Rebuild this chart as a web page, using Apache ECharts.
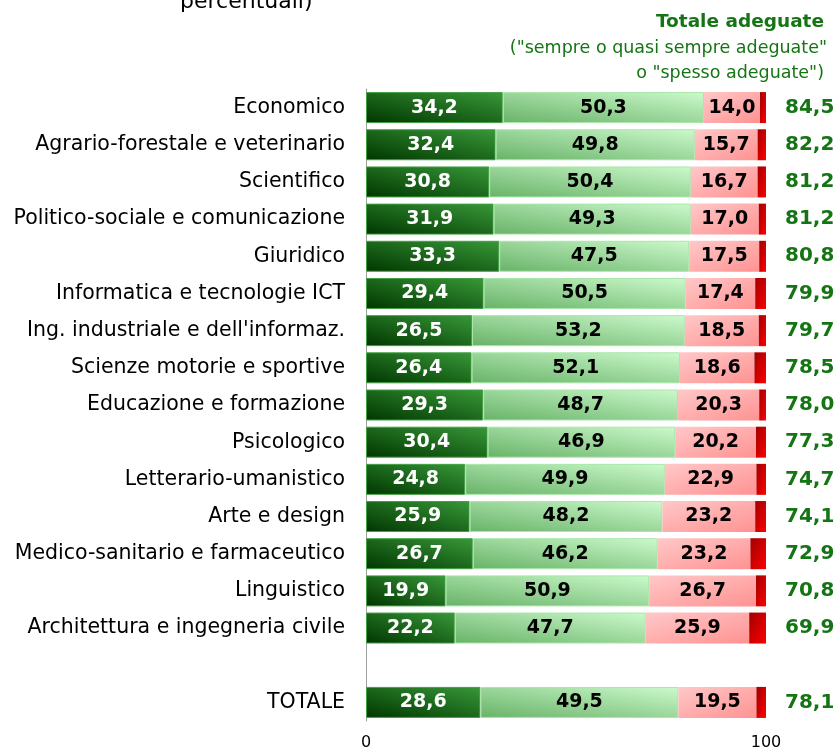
<!DOCTYPE html>
<html>
<head>
<meta charset="utf-8">
<script src="https://cdn.jsdelivr.net/npm/echarts@6/dist/echarts.min.js"></script>
<style>
  html, body { margin: 0; padding: 0; background: #fff; }
  #main { width: 838px; height: 749px; }
</style>
</head>
<body>
<div id="main"></div>
<script>
// categorie (riga vuota prima del totale)
var categorie = ['Economico', 'Agrario-forestale e veterinario', 'Scientifico',
  'Politico-sociale e comunicazione', 'Giuridico', 'Informatica e tecnologie ICT',
  "Ing. industriale e dell'informaz.", 'Scienze motorie e sportive',
  'Educazione e formazione', 'Psicologico', 'Letterario-umanistico',
  'Arte e design', 'Medico-sanitario e farmaceutico', 'Linguistico',
  'Architettura e ingegneria civile', '', 'TOTALE'];

var sempre  = [34.2, 32.4, 30.8, 31.9, 33.3, 29.4, 26.5, 26.4, 29.3, 30.4, 24.8, 25.9, 26.7, 19.9, 22.2, null, 28.6];
var spesso  = [50.3, 49.8, 50.4, 49.3, 47.5, 50.5, 53.2, 52.1, 48.7, 46.9, 49.9, 48.2, 46.2, 50.9, 47.7, null, 49.5];
var raramente = [14.0, 15.7, 16.7, 17.0, 17.5, 17.4, 18.5, 18.6, 20.3, 20.2, 22.9, 23.2, 23.2, 26.7, 25.9, null, 19.5];
var mai     = [1.5, 2.1, 2.1, 1.8, 1.7, 2.7, 1.8, 2.9, 1.7, 2.5, 2.4, 2.7, 3.9, 2.5, 4.2, null, 2.4];
var totale  = [84.5, 82.2, 81.2, 81.2, 80.8, 79.9, 79.7, 78.5, 78.0, 77.3, 74.7, 74.1, 72.9, 70.8, 69.9, null, 78.1];

var font = 'DejaVu Sans';
var verde = '#157515';
var barH = 31;

// gradiente "diagonale" come in Excel: le isolinee seguono la diagonale del rettangolo
function diag(w, h, up, c1, c2) {
  var k = w * w + h * h;
  var dx = h * h / k, dy = w * w / k;
  var y0 = up ? 0.5 + dy : 0.5 - dy, y1 = up ? 0.5 - dy : 0.5 + dy;
  return new echarts.graphic.LinearGradient(0.5 - dx, y0, 0.5 + dx, y1, [
    { offset: 0, color: c1 }, { offset: 1, color: c2 }
  ]);
}
function fmt(p) {
  return p.value == null ? '' : p.value.toFixed(1).replace('.', ',');
}
function barLabel(col) {
  return {
    show: true, position: 'inside', color: col, fontFamily: font,
    fontWeight: 'bold', fontSize: 19, formatter: fmt
  };
}

var chart = echarts.init(document.getElementById('main'));

chart.setOption({
  animation: false,
  grid: { left: 366, right: 72, top: 89, bottom: 28, outerBoundsMode: 'none' },
  xAxis: {
    type: 'value', min: 0, max: 100, interval: 100,
    axisLine: { show: false }, axisTick: { show: false },
    splitLine: { show: false },
    axisLabel: { color: '#000', fontFamily: font, fontSize: 16, margin: 14 }
  },
  yAxis: {
    type: 'category', data: categorie, inverse: true,
    axisLine: { show: true, lineStyle: { color: '#a0a0a0', width: 1 } },
    axisTick: { show: false },
    axisLabel: { color: '#000', fontFamily: font, fontSize: 20.5, margin: 21 }
  },
  graphic: [
    { type: 'text', left: 180, top: -9,
      style: { text: 'percentuali)', fill: '#000', font: '22px "DejaVu Sans"' } },
    { type: 'text', right: 14, top: 13,
      style: { text: 'Totale adeguate', fill: verde, font: 'bold 18.5px "DejaVu Sans"' } },
    { type: 'text', right: 11, top: 39,
      style: { text: '("sempre o quasi sempre adeguate"', fill: verde, font: '17.5px "DejaVu Sans"' } },
    { type: 'text', right: 14, top: 64,
      style: { text: 'o "spesso adeguate")', fill: verde, font: '17.5px "DejaVu Sans"' } }
  ],
  series: [
    { name: 'Sempre', type: 'bar', stack: 'tot', data: sempre, barWidth: barH, label: barLabel('#fff') },
    { name: 'Spesso', type: 'bar', stack: 'tot', data: spesso, label: barLabel('#000') },
    { name: 'Raramente', type: 'bar', stack: 'tot', data: raramente, label: barLabel('#000') },
    {
      name: 'Mai', type: 'bar', stack: 'tot', data: mai,
      label: {
        show: true, position: 'right', distance: 19, color: verde,
        fontFamily: font, fontWeight: 'bold', fontSize: 20,
        formatter: function (p) {
          var t = totale[p.dataIndex];
          return t == null ? '' : t.toFixed(1).replace('.', ',');
        }
      }
    }
  ]
});

// colori sfumati per ogni barra, in base alla larghezza in pixel
var px = chart.convertToPixel({ xAxisIndex: 0 }, 100) - chart.convertToPixel({ xAxisIndex: 0 }, 0);
function styled(arr, up, c1, c2, border) {
  return arr.map(function (v) {
    if (v == null) return null;
    var st = { color: diag(v * px / 100, barH, up, c1, c2) };
    if (border) { st.borderColor = border; st.borderWidth = 1; }
    return { value: v, itemStyle: st };
  });
}
chart.setOption({
  series: [
    { data: styled(sempre, true, '#003600', '#389838', '#44a044') },
    { data: styled(spesso, true, '#68b268', '#ccfacc', '#a8e8a8') },
    { data: styled(raramente, false, '#ffc8c8', '#ff9292') },
    { data: styled(mai, false, '#a00000', '#ff0000') }
  ]
});
</script>
</body>
</html>
